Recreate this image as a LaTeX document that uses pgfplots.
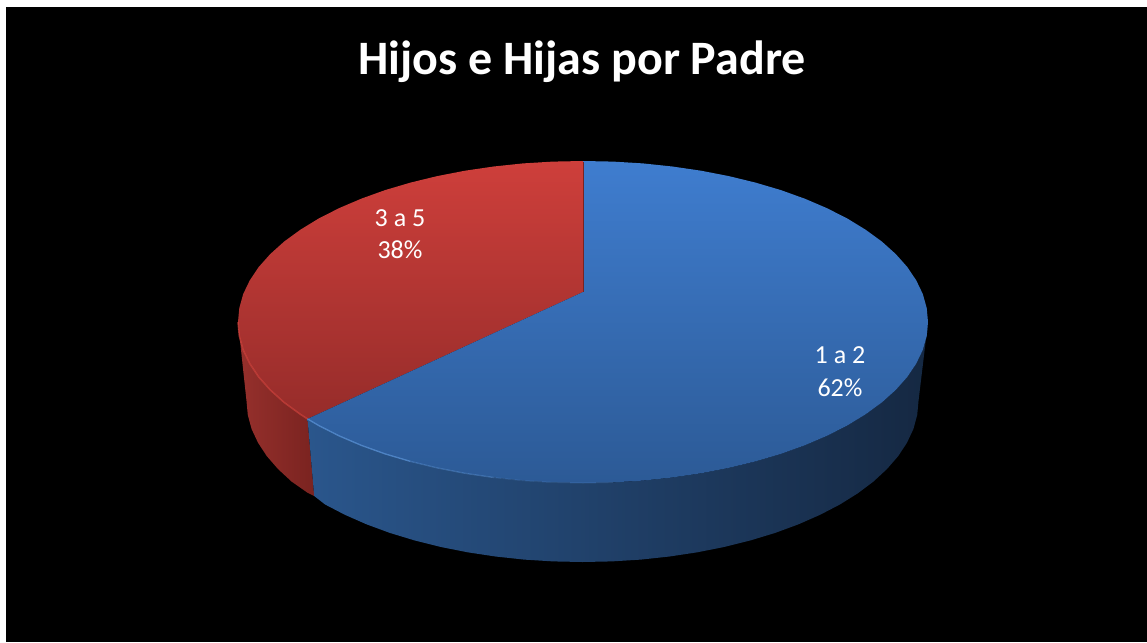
\documentclass[border=0pt]{standalone}
\usepackage{fontspec}
\setmainfont{Carlito}
\usepackage{pgfplots}
\pgfplotsset{compat=1.18}
\definecolor{blueT}{RGB}{63,125,207}
\definecolor{blueB}{RGB}{44,90,150}
\definecolor{redT}{RGB}{206,63,59}
\definecolor{redB}{RGB}{150,44,42}
\definecolor{blueSL}{RGB}{42,86,140}
\definecolor{blueSM}{RGB}{26,52,86}
\definecolor{blueSR}{RGB}{21,40,66}
\definecolor{redSL}{RGB}{150,48,44}
\definecolor{redSR}{RGB}{122,35,32}
\definecolor{blueE}{RGB}{88,144,212}
\definecolor{redE}{RGB}{205,66,60}
\begin{document}
\begin{tikzpicture}
\begin{axis}[
  width=1147pt, height=642pt, scale only axis,
  xmin=0, xmax=1147, ymin=0, ymax=642, y dir=reverse,
  hide axis, enlargelimits=false, clip=true]
\addplot[fill=white, draw=none] coordinates {(0,0) (1147,0) (1147,642) (0,642)} --cycle;
\addplot[fill=black, draw=none] coordinates {(6,7) (1147,7) (1147,642) (6,642)} --cycle;
% red side
\addplot[left color=redSL, right color=redSR, draw=none] coordinates {
(238,322) (239.3,336) (243.2,350) (249.8,363.7) (258.8,377.1) (270.3,390) (284.2,402.5) (300.4,414.3) (307.5,418.9)
(314.2,496) (307.2,492.5) (291.5,481.5) (278,469) (266.8,456.1) (258,442.7) (251.6,429) (247.8,415) (246.5,401)} --cycle;
% blue side
\addplot[left color=blueSL, middle color=blueSM, right color=blueSR, draw=none] coordinates {
(307.5,418.9) (318.7,425.5) (339,435.8) (361.2,445.3) (385.1,453.9) (410.5,461.4) (437.2,467.9) (465,473.3) (493.7,477.5) (523.1,480.6) (552.9,482.4) (583,483)
(613.1,482.4) (642.9,480.6) (672.3,477.5) (701,473.3) (728.8,467.9) (755.5,461.4) (780.9,453.9) (804.8,445.3) (827,435.8) (847.3,425.5) (865.6,414.3) (881.8,402.5) (895.7,390) (907.2,377.1) (916.2,363.7) (922.8,350) (926.7,336) (928,322)
(918.5,401) (917.2,415) (913.4,429) (907,442.7) (898.2,456.1) (887,469) (873.5,481.5) (857.8,493.3) (839.9,504.5) (820.1,514.8) (798.5,524.3) (775.2,532.9) (750.5,540.4) (724.5,546.9) (697.4,552.3) (669.5,556.5) (640.8,559.6) (611.8,561.4) (582.5,562)
(553.2,561.4) (524.2,559.6) (495.5,556.5) (467.6,552.3) (440.5,546.9) (414.5,540.4) (389.8,532.9) (366.5,524.3) (344.9,514.8) (325.1,504.5) (314.2,496)} --cycle;
% red top
\addplot[top color=redT, bottom color=redB, draw=none] coordinates {
(583,292) (583,161) (552.9,161.6) (523.1,163.4) (493.7,166.5) (465,170.7) (437.2,176.1) (410.5,182.6) (385.1,190.1) (361.2,198.7) (339,208.2) (318.7,218.5) (300.4,229.7) (284.2,241.5) (270.3,254) (258.8,266.9) (249.8,280.3) (243.2,294) (239.3,308) (238,322)
(239.3,336) (243.2,350) (249.8,363.7) (258.8,377.1) (270.3,390) (284.2,402.5) (300.4,414.3) (307.5,418.9)} --cycle;
% blue top
\addplot[top color=blueT, bottom color=blueB, draw=none] coordinates {
(583,292) (583,161) (613.1,161.6) (642.9,163.4) (672.3,166.5) (701,170.7) (728.8,176.1) (755.5,182.6) (780.9,190.1) (804.8,198.7) (827,208.2) (847.3,218.5) (865.6,229.7) (881.8,241.5) (895.7,254) (907.2,266.9) (916.2,280.3) (922.8,294) (926.7,308) (928,322)
(926.7,336) (922.8,350) (916.2,363.7) (907.2,377.1) (895.7,390) (881.8,402.5) (865.6,414.3) (847.3,425.5) (827,435.8) (804.8,445.3) (780.9,453.9) (755.5,461.4) (728.8,467.9) (701,473.3) (672.3,477.5) (642.9,480.6) (613.1,482.4) (583,483)
(552.9,482.4) (523.1,480.6) (493.7,477.5) (465,473.3) (437.2,467.9) (410.5,461.4) (385.1,453.9) (361.2,445.3) (339,435.8) (318.7,425.5) (307.5,418.9)} --cycle;
% edge highlights
\addplot[redE, line width=1.5pt, opacity=.7] coordinates {
(238,322) (239.3,336) (243.2,350) (249.8,363.7) (258.8,377.1) (270.3,390) (284.2,402.5) (300.4,414.3) (307.5,418.9)};
\addplot[blueE, line width=1.3pt, opacity=.8] coordinates {
(307.5,418.9) (318.7,425.5) (339,435.8) (361.2,445.3) (385.1,453.9) (410.5,461.4)};
\addplot[blueE, line width=1.2pt, opacity=.5] coordinates {
(410.5,461.4) (437.2,467.9) (465,473.3) (493.7,477.5)};
\addplot[blueE, line width=1pt, opacity=.25] coordinates {
(493.7,477.5) (523.1,480.6) (552.9,482.4) (583,483) (613.1,482.4)};
% radial line
\addplot[color=redB!80!black, line width=0.8pt] coordinates {(583,162) (583,292)};
\node[text=white, font=\fontsize{48}{56}\selectfont\bfseries, anchor=center] at (axis cs:582,62) {Hijos e Hijas por Padre};
\node[text=white, font=\fontsize{26}{30}\selectfont] at (axis cs:400,218) {3 a 5};
\node[text=white, font=\fontsize{26}{30}\selectfont] at (axis cs:400,250) {38\%};
\node[text=white, font=\fontsize{26}{30}\selectfont] at (axis cs:840,355) {1 a 2};
\node[text=white, font=\fontsize{26}{30}\selectfont] at (axis cs:840,388) {62\%};
\end{axis}
\end{tikzpicture}
\end{document}
